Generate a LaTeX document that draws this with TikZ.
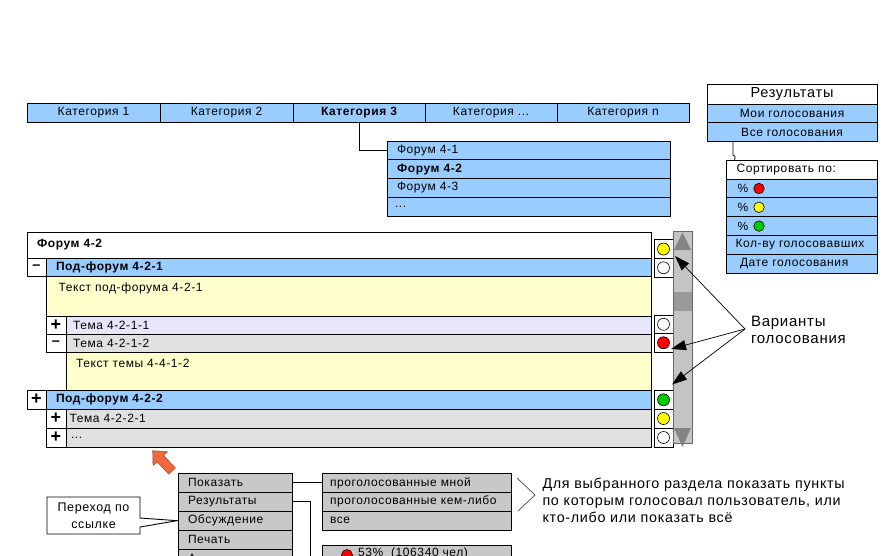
\documentclass[tikz,border=0pt]{standalone}
\usepackage{fontspec}
\setmainfont{Liberation Sans}[LetterSpace=5]
\usetikzlibrary{arrows.meta,calc,backgrounds}
\definecolor{cblue}{HTML}{99CCFF}
\definecolor{cyel}{HTML}{FFFFCC}
\definecolor{clav}{HTML}{E6E6FA}
\definecolor{cgray}{HTML}{E0E0E0}
\definecolor{cmenu}{HTML}{C8C8C8}
\definecolor{cscroll}{HTML}{C4C4C4}
\definecolor{cthumb}{HTML}{999999}
\definecolor{ctri}{HTML}{858585}
\definecolor{cyc}{HTML}{FFFF00}
\definecolor{crc}{HTML}{FF0000}
\definecolor{cgc}{HTML}{00CC00}
\definecolor{corange}{HTML}{F2683A}
\definecolor{corangeD}{HTML}{B0401C}
\tikzset{
  cellbase/.style={draw=black, line width=0.9pt, inner ysep=0pt, outer sep=0pt,
    anchor=north west, font=\fontsize{12}{14}\selectfont},
  pmsign/.style={font=\fontsize{18}{18}\bfseries\selectfont},
  mnsign/.style={font=\fontsize{14.5}{14.5}\bfseries\selectfont},
  vc/.style={circle, draw=black, line width=0.6pt, minimum size=12pt, inner sep=0pt},
  sc/.style={circle, draw=black, line width=0.6pt, minimum size=10.5pt, inner sep=0pt},
  plaintext/.style={inner sep=0pt, outer sep=0pt, font=\fontsize{12}{14}\selectfont},
  menufont/.style={font=\fontsize{12}{14}\selectfont},
  conn/.style={draw=black, line width=0.9pt},
  varr/.style={draw=black, line width=0.7pt, -{Triangle[length=15pt,width=10pt]}},
}
\newcommand\cellL[9][]{%
  \pgfmathsetmacro\celltw{#5-2*#8}%
  \node[cellbase, fill=#7, minimum height=#6, text width=\celltw pt, inner xsep=#8 pt, align=left, #1] (#2) at (#3,#4) {#9};}
\newcommand\cellC[8][]{%
  \node[cellbase, fill=#7, minimum width=#5, minimum height=#6, inner xsep=0pt, align=center, #1] (#2) at (#3,#4) {#8};}

\begin{document}
\begin{tikzpicture}[x=1pt,y=-1pt]
\useasboundingbox (0,0) rectangle (890,555);
\begin{scope}[on background layer]
\fill[white] (0,0) rectangle (890,555);
\end{scope}

% categories
\cellC{c1}{27}{103}{133}{19}{cblue}{Категория 1}
\cellC{c2}{160}{103}{133}{19}{cblue}{Категория 2}
\cellC{c3}{293}{103}{132}{19}{cblue}{\bfseries Категория 3}
\cellC{c4}{425}{103}{132}{19}{cblue}{Категория ...}
\cellC{c5}{557}{103}{132}{19}{cblue}{Категория n}

% forum list
\cellL{fl1}{387}{141}{283}{18.8}{cblue}{10}{Форум 4-1}
\cellL{fl2}{387}{159.8}{283}{18.8}{cblue}{10}{\bfseries Форум 4-2}
\cellL{fl3}{387}{178.6}{283}{18.8}{cblue}{10}{Форум 4-3}
\cellL{fl4}{387}{197.4}{283}{18.8}{cblue}{8}{...}
\draw[conn] (c3.south) |- (fl1.west);

% results box
\cellC[font=\fontsize{14.5}{16}\selectfont]{r0}{707}{84.3}{170}{19.7}{white}{Результаты}
\cellC{r1}{707}{104}{170}{18.7}{cblue}{Мои голосования}
\cellC{r2}{707}{122.7}{170}{18.6}{cblue}{Все голосования}

% sort box
\cellL{s0}{726}{160.3}{151}{18.8}{white}{10.5}{Сортировать по:}
\cellL{s1}{726}{179.1}{151}{18.8}{cblue}{11.5}{\%}
\cellL{s2}{726}{197.9}{151}{18.8}{cblue}{11.5}{\%}
\cellL{s3}{726}{216.7}{151}{18.8}{cblue}{11.5}{\%}
\cellL{s4}{726}{235.5}{151}{18.8}{cblue}{9.5}{Кол-ву голосовавших}
\cellL{s5}{726}{254.3}{151}{18.8}{cblue}{14}{Дате голосования}
\node[sc, fill=crc] (sc1) at ($(s1.west)+(33,0)$) {};
\node[sc, fill=cyc] (sc2) at ($(s2.west)+(33,0)$) {};
\node[sc, fill=cgc] (sc3) at ($(s3.west)+(33,0)$) {};
\draw[conn, line width=0.8pt] ([xshift=26pt]r2.south west) -- ++(0,14) -- ++(2,1) -- ([xshift=8.7pt]s0.north west);

% main panel
\cellL{f42}{27}{232}{624.5}{26}{white}{10}{\bfseries Форум 4-2}
\cellC[mnsign]{pm1}{27}{258}{19}{18.5}{white}{–}
\cellL{sf1}{46}{258}{605.5}{18.5}{cblue}{10}{\bfseries Под-форум 4-2-1}
\node[cellbase, fill=cyel, minimum width=605.5pt, minimum height=39.5pt] (tx1) at (46,276.5) {};
\node[plaintext, anchor=west] (tx1t) at (58.5,288) {Текст под-форума 4-2-1};
\cellC[pmsign]{pp1}{46}{316}{20}{18}{white}{+}
\cellL{th1}{66}{316}{585.5}{18}{clav}{7}{Тема 4-2-1-1}
\cellC[mnsign]{pm2}{46}{334}{20}{18}{white}{–}
\cellL{th2}{66}{334}{585.5}{18}{cgray}{7}{Тема 4-2-1-2}
\node[cellbase, fill=cyel, minimum width=585.5pt, minimum height=38pt] (tx2) at (66,352) {};
\node[plaintext, anchor=west] (tx2t) at (76,363.5) {Текст темы 4-4-1-2};
\cellC[pmsign]{pp2}{27}{390}{19}{19}{white}{+}
\cellL{sf2}{46}{390}{605.5}{19}{cblue}{10}{\bfseries Под-форум 4-2-2}
\cellC[pmsign]{pp3}{46}{409}{20}{19}{white}{+}
\cellL{th3}{66}{409}{585.5}{19}{cgray}{3.5}{Тема 4-2-2-1}
\cellC[pmsign]{pp4}{46}{428}{20}{19}{white}{+}
\cellL{th4}{66}{428}{585.5}{19}{cgray}{5}{...}

% vote boxes
\cellC{vb1}{654}{239.5}{19}{19}{white}{}
\cellC{vb2}{654}{258.5}{19}{18.5}{white}{}
\cellC{vb3}{654}{315}{19}{18.5}{white}{}
\cellC{vb4}{654}{333.5}{19}{18.5}{white}{}
\cellC{vb5}{654}{390.5}{19}{18.5}{white}{}
\cellC{vb6}{654}{409}{19}{19}{white}{}
\cellC{vb7}{654}{428}{19}{19}{white}{}
\node[vc, fill=cyc] (vc1) at (vb1.center) {};
\node[vc, fill=white] (vc2) at (vb2.center) {};
\node[vc, fill=white] (vc3) at (vb3.center) {};
\node[vc, fill=crc] (vc4) at (vb4.center) {};
\node[vc, fill=cgc] (vc5) at (vb5.center) {};
\node[vc, fill=cyc] (vc6) at (vb6.center) {};
\node[vc, fill=white] (vc7) at (vb7.center) {};

% scrollbar
\node[draw=black!60, line width=0.8pt, fill=cscroll, minimum width=19pt, minimum height=212pt, inner sep=0pt, outer sep=0pt, anchor=north west] (sb) at (673,231) {};
\fill[ctri] ($(sb.north west)+(1,19)$) -- ($(sb.north)+(0,1.5)$) -- ($(sb.north east)+(-1,19)$) -- cycle;
\fill[cthumb] ($(sb.north west)+(0.5,61)$) rectangle ($(sb.north east)+(-0.5,80)$);
\fill[ctri] ($(sb.south west)+(1,-15)$) -- ($(sb.south)+(0,4)$) -- ($(sb.south east)+(-1,-15)$) -- cycle;

% voting variants label and arrows
\node[plaintext, font=\fontsize{15}{16.5}\selectfont, align=left, anchor=west] (vl) at (751,330) {Варианты\\голосования};
\coordinate (vsrc) at ($(vl.west)+(-6,-1)$);
\draw[varr] (vsrc) -- ($(vb2.north east)+(2,-2.5)$);
\draw[varr] (vsrc) -- ($(vb4.south east)+(-2,-3)$);
\draw[varr] (vsrc) -- ($(vb5.north east)+(-1,-6)$);

% orange arrow
\filldraw[fill=corange, draw=corangeD, line width=0.5pt]
  (175.3,467.9) -- (163.55,455.58) -- (167.54,451.79) -- (152.7,450.7)
  -- (153.04,465.57) -- (157.03,461.78) -- (168.7,474.1) -- cycle;

% context menu
\cellL[menufont]{m1}{178}{473.3}{114}{19}{cmenu}{10}{Показать}
\cellL[menufont]{m2}{178}{492.3}{114}{19}{cmenu}{10}{Результаты}
\cellL[menufont]{m3}{178}{511.3}{114}{18.7}{cmenu}{10}{Обсуждение}
\cellL[menufont]{m4}{178}{530}{114}{19}{cmenu}{10}{Печать}
\cellL[menufont]{m5}{178}{549}{114}{19}{cmenu}{10}{А}

\cellL[menufont]{sh1}{322}{473.3}{189.5}{19}{cmenu}{8}{проголосованные мной}
\cellL[menufont]{sh2}{322}{492.3}{189.5}{19}{cmenu}{8}{проголосованные кем-либо}
\cellL[menufont]{sh3}{322}{511.3}{189.5}{18.7}{cmenu}{8}{все}
\draw[conn] (m1.east) -- (sh1.west);
\coordinate (rdown) at (310,600);
\draw[conn] (m2.east) -| (rdown);

\node[cellbase, fill=cmenu, minimum width=189.5pt, minimum height=24pt] (rb1) at (322,545) {};
\node[sc, fill=crc, minimum size=11pt] (rbc) at (347,555) {};
\node[plaintext, menufont, anchor=base west] (rbt) at (358,556) {53\% \ (106340 чел)};

% callout
\node[plaintext, font=\fontsize{12.5}{16.6}\selectfont, align=center, minimum width=93pt, minimum height=37pt, anchor=north west] (cb) at (47,497) {Переход по\\ссылке};
\begin{scope}[on background layer]
\filldraw[fill=white, draw=black, line width=0.9pt]
  (cb.north west) -- (cb.north east) -- ($(cb.north east)+(0,21)$) -- ($(m3.west)+(-1,0)$)
  -- ($(cb.north east)+(0,30)$) -- (cb.south east) -- (cb.south west) -- cycle;
\end{scope}

% bracket and description
\draw[black!70, line width=0.7pt] (517,478) -- (535,495) -- (518,511);
\node[plaintext, font=\fontsize{14.3}{17}\selectfont, align=left, anchor=west] (desc) at (542.5,500)
  {Для выбранного раздела показать пункты\\по которым голосовал пользователь, или\\кто-либо или показать всё};
\end{tikzpicture}
\end{document}
